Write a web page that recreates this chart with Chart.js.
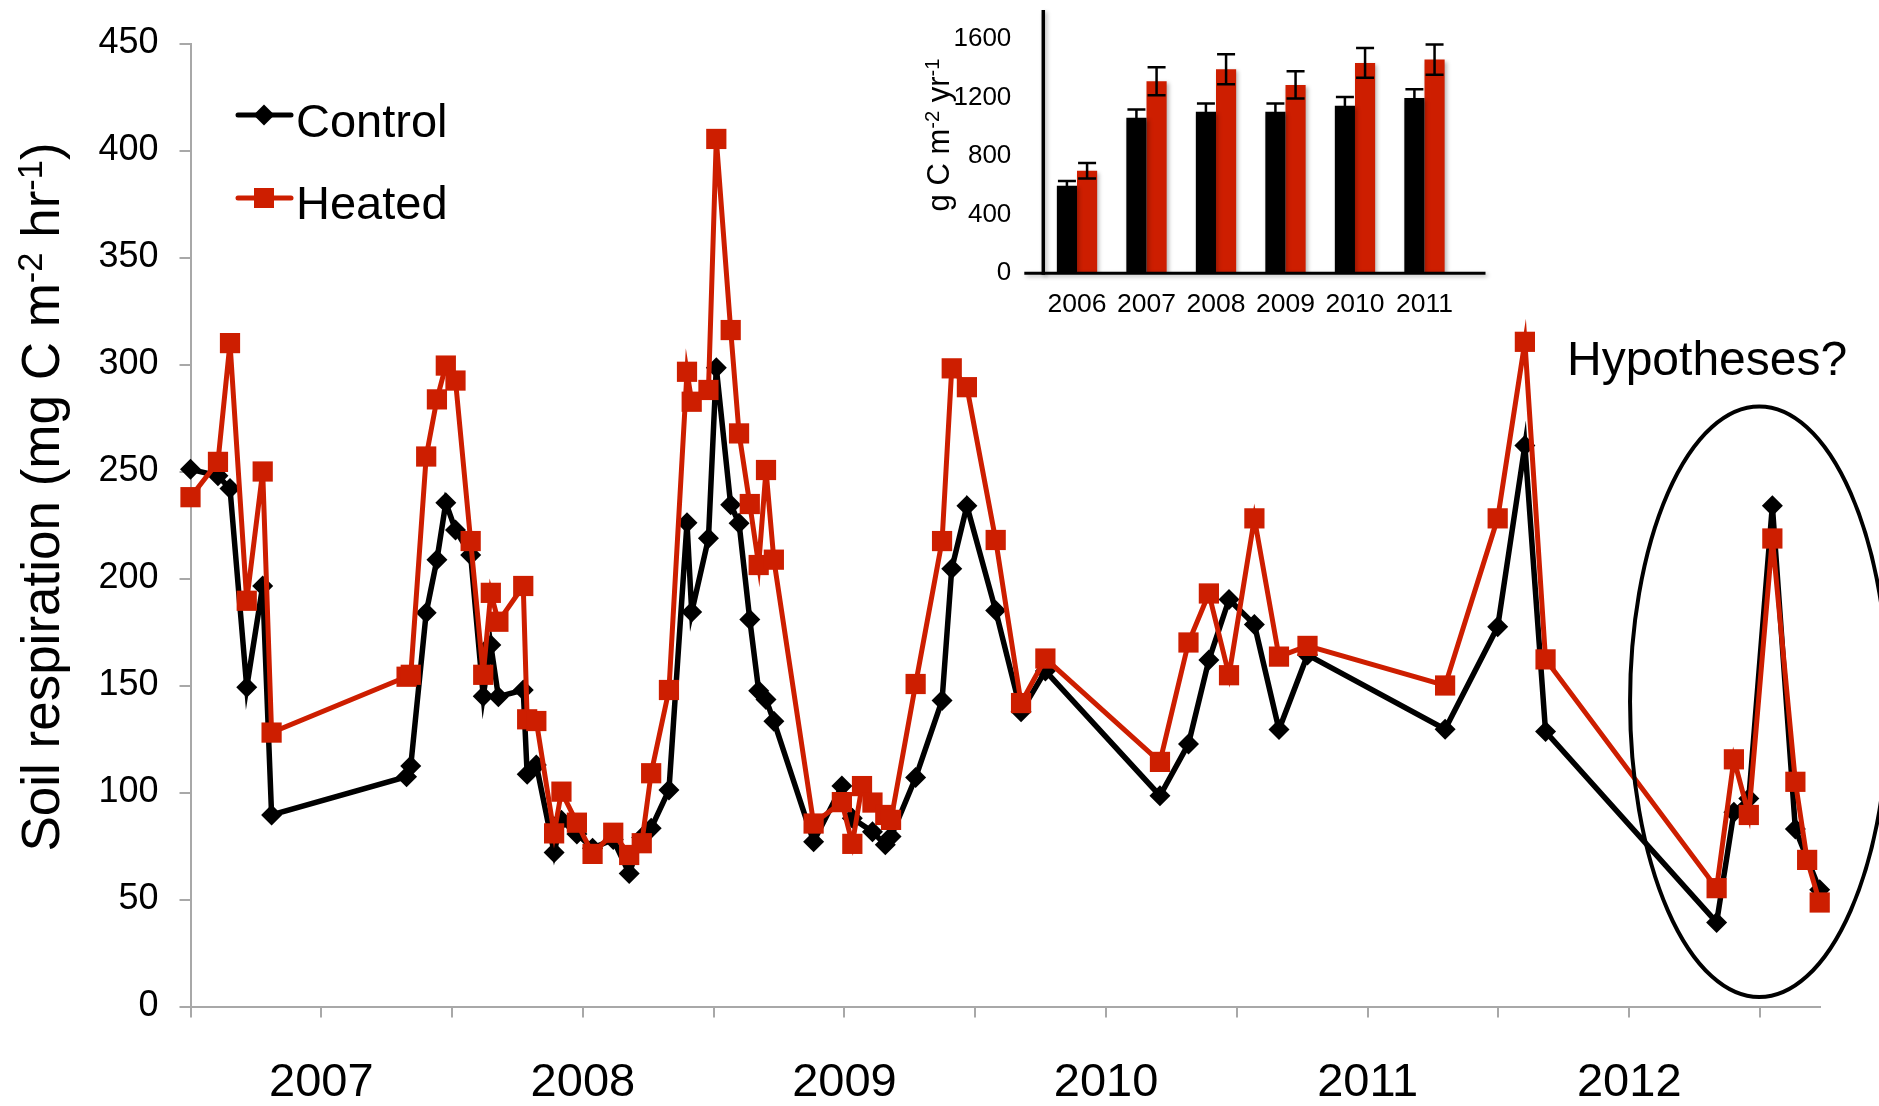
<!DOCTYPE html>
<html>
<head>
<meta charset="utf-8">
<title>Soil respiration, control vs heated plots</title>
<script src="https://cdn.jsdelivr.net/npm/chart.js@4.4.1/dist/chart.umd.min.js"></script>
<style>
  html, body { margin: 0; padding: 0; background: #ffffff; }
  #wrap { position: relative; width: 1879px; height: 1106px; overflow: hidden; background: #ffffff; }
  #main { position: absolute; left: 0; top: 0; }
  #inset { position: absolute; left: 900px; top: -40px; }
</style>
</head>
<body>
<div id="wrap">
  <canvas id="main" width="1879" height="1106"></canvas>
  <canvas id="inset" width="600" height="380"></canvas>
</div>
<script>
// ---- Soil respiration time series (decimal year of each campaign) ----
const sampleDates = [
  2006.5, 2006.605, 2006.651, 2006.715, 2006.776, 2006.81,
  2007.326, 2007.342, 2007.401, 2007.442, 2007.476, 2007.513, 2007.571,
  2007.619, 2007.648, 2007.677, 2007.772, 2007.787, 2007.822, 2007.89, 2007.918, 2007.977,
  2008.037, 2008.116, 2008.177, 2008.225, 2008.261, 2008.329,
  2008.398, 2008.416, 2008.48, 2008.51, 2008.565, 2008.597, 2008.638, 2008.672, 2008.70, 2008.73,
  2008.882, 2008.99, 2009.03, 2009.067, 2009.107, 2009.156, 2009.178,
  2009.272, 2009.373, 2009.41, 2009.468, 2009.578, 2009.675, 2009.768,
  2010.206, 2010.315, 2010.393, 2010.47, 2010.567, 2010.661, 2010.77,
  2011.296, 2011.497, 2011.601, 2011.68,
  2012.334, 2012.40, 2012.457, 2012.547, 2012.635, 2012.68, 2012.728
];

// mg C m-2 hr-1
const controlFlux = [
  251, 248, 242, 149.2, 196.5, 89.5,
  107.4, 112.4, 184, 208.8, 235.4, 222.7, 211,
  145, 168.9, 144.8, 147.9, 108.5, 112.9, 72, 87, 80.6,
  74, 78, 62.2, 79, 83.3, 101.2,
  226, 184.3, 218.8, 298.5, 234.5, 225.8, 180.8, 147.6, 143.5, 133.3,
  77, 103, 88, null, 81.7, 75.6, 79.4,
  107, 143, 204.5, 234, 185, 137.7, 156.8,
  98.5, 122.7, 161.9, 190.2, 178.5, 129.4, 164.3,
  129.6, 177.4, 262.2, 128.5,
  39.3, 90.8, 97.2, 234, 82.9, null, 54.5
];

const heatedFlux = [
  238, 254.5, 310, 189.6, 250, 128,
  154.1, 155, 257, 283.7, 299.5, 292.5, 217.5,
  155, 193.3, 179.8, 196.5, 134.2, 133.4, 80.9, 100.4, 85.9,
  71.3, 81.2, 70.8, 76.3, 109, 147.9,
  296.6, 282.6, 288.1, 405.4, 316.1, 267.8, 234.8, 206.3, 250.7, 208.8,
  85.5, 95.5, 76, 103, 95.3, 89.5, 87.2,
  150.7, 217.5, 298.2, 289.4, 218, 141.8, 162.6,
  114.3, 170.1, 193, 154.8, 228.1, 163.5, 168.5,
  150, 228.1, 310.6, 162.2,
  55.3, 115.5, 89.5, 218.7, 105, 68.5, 48.6
];

// Half-year tick marks; only whole years carry a label
const xTickValues = [2006.5, 2007, 2007.5, 2008, 2008.5, 2009, 2009.5, 2010, 2010.5, 2011, 2011.5, 2012, 2012.5];
const yMax = 450;
const yStep = 50;

// Ellipse around the 2012 campaign (data units)
const focusEllipse = { x: 2012.497, y: 142.4, halfWidth: 0.494, halfHeight: 138 };

// ---- Annual totals (g C m-2 yr-1) ----
const annualYears = ['2006', '2007', '2008', '2009', '2010', '2011'];
const annualControl = [599, 1063, 1104, 1104, 1145, 1199];
const annualControlErr = [32, 57, 57, 57, 61, 60];
const annualHeated = [701, 1313, 1395, 1288, 1438, 1461];
const annualHeatedErr = [53, 95, 102, 93, 102, 104];
const annualTicks = [0, 400, 800, 1200, 1600];
const annualMax = 1800;

const RED = '#cd1e00';
const BLACK = '#000000';
const AXIS_GRAY = '#a8a8a8';
const FAMILY = "'Liberation Sans', Arial, Helvetica, sans-serif";

Chart.defaults.font.family = FAMILY;
Chart.defaults.color = '#000000';

// Draws text made of normal and superscript runs
function drawRuns(ctx, runs, x, y, size, align) {
  const fontFor = r => (r.sup ? size * 0.65 : size) + 'px ' + FAMILY;
  let total = 0;
  const widths = runs.map(r => { ctx.font = fontFor(r); const w = ctx.measureText(r.t).width; total += w; return w; });
  let cx = align === 'center' ? x - total / 2 : x;
  ctx.textAlign = 'left';
  ctx.textBaseline = 'alphabetic';
  runs.forEach((r, i) => {
    ctx.font = fontFor(r);
    ctx.fillText(r.t, cx, r.sup ? y - size * 0.33 : y);
    cx += widths[i];
  });
}

function diamond(ctx, x, y, r) {
  ctx.beginPath();
  ctx.moveTo(x, y - r); ctx.lineTo(x + r, y); ctx.lineTo(x, y + r); ctx.lineTo(x - r, y);
  ctx.closePath(); ctx.fill();
}

const mainDecor = {
  id: 'mainDecor',
  afterDatasetsDraw(chart) {
    const { ctx, scales: { x, y } } = chart;
    const cx = x.getPixelForValue(focusEllipse.x);
    const cy = y.getPixelForValue(focusEllipse.y);
    const rx = x.getPixelForValue(focusEllipse.x + focusEllipse.halfWidth) - cx;
    const ry = y.getPixelForValue(focusEllipse.y - focusEllipse.halfHeight) - cy;
    ctx.save();
    ctx.strokeStyle = BLACK;
    ctx.lineWidth = 4;
    ctx.beginPath();
    ctx.ellipse(cx, cy, rx, ry, 0, 0, Math.PI * 2);
    ctx.stroke();
    ctx.restore();
  },
  afterDraw(chart) {
    const ctx = chart.ctx;
    const ds = chart.data.datasets;
    ctx.save();
    ctx.fillStyle = '#000';
    // y axis title
    ctx.save();
    ctx.translate(59, 497);
    ctx.rotate(-Math.PI / 2);
    drawRuns(ctx, [
      { t: 'Soil respiration (mg C m' }, { t: '-2', sup: true },
      { t: ' hr' }, { t: '-1', sup: true }, { t: ')' }
    ], 0, 0, 53, 'center');
    ctx.restore();

    // legend
    const rows = [
      { d: ds[0], y: 115, base: 137 },
      { d: ds[1], y: 198, base: 219 }
    ];
    rows.forEach((row, i) => {
      ctx.strokeStyle = row.d.borderColor;
      ctx.fillStyle = row.d.borderColor;
      ctx.lineWidth = 5;
      ctx.lineCap = 'round';
      ctx.beginPath(); ctx.moveTo(238, row.y); ctx.lineTo(291, row.y); ctx.stroke();
      if (i === 0) diamond(ctx, 264, row.y, 10.5);
      else ctx.fillRect(254, row.y - 10, 20, 20);
      ctx.fillStyle = '#000';
      ctx.font = '47px ' + FAMILY;
      ctx.textAlign = 'left';
      ctx.textBaseline = 'alphabetic';
      ctx.fillText(row.d.label, 296, row.base);
    });

    ctx.font = '48px ' + FAMILY;
    ctx.fillText('Hypotheses?', 1567, 375);
    ctx.restore();
  }
};

const mainChart = new Chart(document.getElementById('main'), {
  type: 'line',
  data: {
    datasets: [
      {
        label: 'Control',
        data: sampleDates.map((t, i) => ({ x: t, y: controlFlux[i] })),
        borderColor: BLACK, backgroundColor: BLACK, borderWidth: 5.5,
        pointStyle: 'rectRot', pointRadius: 10.5, pointBorderWidth: 0,
        pointBackgroundColor: BLACK, tension: 0, spanGaps: true, clip: false, order: 1
      },
      {
        label: 'Heated',
        data: sampleDates.map((t, i) => ({ x: t, y: heatedFlux[i] })),
        borderColor: RED, backgroundColor: RED, borderWidth: 5,
        pointStyle: 'rect', pointRadius: 14.3, pointBorderWidth: 0,
        pointBackgroundColor: RED, tension: 0, spanGaps: true, clip: false, order: 0
      }
    ]
  },
  options: {
    responsive: false,
    animation: false,
    devicePixelRatio: 1,
    layout: { padding: { top: 43.5, right: 59.3, left: 0, bottom: 0 } },
    plugins: { legend: { display: false }, tooltip: { enabled: false } },
    scales: {
      x: {
        type: 'linear',
        min: sampleDates[0],
        max: sampleDates[sampleDates.length - 1],
        afterBuildTicks: ax => { ax.ticks = xTickValues.map(v => ({ value: v })); },
        afterFit: ax => { ax.height = 99.5; },
        grid: { display: true, drawOnChartArea: false, drawTicks: true, tickLength: 11, color: AXIS_GRAY, lineWidth: 2 },
        border: { display: true, color: AXIS_GRAY, width: 2 },
        ticks: {
          autoSkip: false, maxRotation: 0, minRotation: 0, padding: 37, color: '#000',
          font: { size: 47 },
          callback: v => (Number.isInteger(v) ? String(v) : '')
        }
      },
      y: {
        min: 0, max: yMax,
        afterFit: ax => { ax.width = 190.5; },
        grid: { display: true, drawOnChartArea: false, drawTicks: true, tickLength: 11, color: AXIS_GRAY, lineWidth: 2 },
        border: { display: true, color: AXIS_GRAY, width: 2 },
        ticks: { stepSize: yStep, padding: 21, color: '#000', font: { size: 36 } }
      }
    }
  },
  plugins: [mainDecor]
});

// ---- Inset: annual totals with error bars ----
const insetDecor = {
  id: 'insetDecor',
  beforeDatasetsDraw(chart) {
    const ctx = chart.ctx;
    ctx.save();
    ctx.shadowColor = 'rgba(0,0,0,0.28)';
    ctx.shadowBlur = 4;
    ctx.shadowOffsetX = 2;
    ctx.shadowOffsetY = 2;
  },
  afterDatasetsDraw(chart) {
    const { ctx, chartArea: a, scales: { y } } = chart;
    // axis lines
    ctx.strokeStyle = '#000';
    ctx.lineCap = 'butt';
    ctx.lineWidth = 3.5;
    ctx.beginPath(); ctx.moveTo(a.left, a.top); ctx.lineTo(a.left, a.bottom + 1.5); ctx.stroke();
    ctx.lineWidth = 3;
    ctx.beginPath(); ctx.moveTo(a.left - 19, a.bottom); ctx.lineTo(a.right, a.bottom); ctx.stroke();
    ctx.restore();

    // error bars
    const errs = [annualControlErr, annualHeatedErr];
    const vals = [annualControl, annualHeated];
    ctx.save();
    ctx.strokeStyle = '#000';
    ctx.lineWidth = 2.5;
    [0, 1].forEach(d => {
      chart.getDatasetMeta(d).data.forEach((bar, i) => {
        const top = y.getPixelForValue(vals[d][i] + errs[d][i]);
        const bot = y.getPixelForValue(vals[d][i] - errs[d][i]);
        ctx.beginPath();
        ctx.moveTo(bar.x, top); ctx.lineTo(bar.x, bot);
        ctx.moveTo(bar.x - 9, top); ctx.lineTo(bar.x + 9, top);
        ctx.moveTo(bar.x - 9, bot); ctx.lineTo(bar.x + 9, bot);
        ctx.stroke();
      });
    });
    ctx.restore();
  },
  afterDraw(chart) {
    const ctx = chart.ctx;
    ctx.save();
    ctx.fillStyle = '#000';
    ctx.translate(49, 175);
    ctx.rotate(-Math.PI / 2);
    drawRuns(ctx, [{ t: 'g C m' }, { t: '-2', sup: true }, { t: ' yr' }, { t: '-1', sup: true }], 0, 0, 31, 'center');
    ctx.restore();
  }
};

const insetChart = new Chart(document.getElementById('inset'), {
  type: 'bar',
  data: {
    datasets: [
      { label: 'Control', data: annualControl.map((v, i) => ({ x: i, y: v })), backgroundColor: BLACK, categoryPercentage: 0.58, barPercentage: 1.0 },
      { label: 'Heated', data: annualHeated.map((v, i) => ({ x: i, y: v })), backgroundColor: RED, categoryPercentage: 0.58, barPercentage: 1.0 }
    ]
  },
  options: {
    responsive: false,
    animation: false,
    devicePixelRatio: 1,
    layout: { padding: { top: 50, right: 14.5, left: 0, bottom: 0 } },
    plugins: { legend: { display: false }, tooltip: { enabled: false } },
    scales: {
      x: {
        type: 'linear', min: -0.485, max: 5.878, offset: false,
        afterBuildTicks: ax => { ax.ticks = annualYears.map((_, i) => ({ value: i })); },
        afterFit: ax => { ax.height = 66.7; },
        grid: { display: false },
        border: { display: false },
        ticks: { autoSkip: false, maxRotation: 0, padding: 7, color: '#000', font: { size: 26.5 },
          callback: v => annualYears[v] ?? '' }
      },
      y: {
        min: 0, max: annualMax,
        afterBuildTicks: ax => { ax.ticks = annualTicks.map(v => ({ value: v })); },
        afterFit: ax => { ax.width = 143.3; },
        grid: { display: false },
        border: { display: false },
        ticks: { padding: 24, color: '#000', font: { size: 26 }, callback: v => String(v) }
      }
    }
  },
  plugins: [insetDecor]
});
</script>
</body>
</html>
